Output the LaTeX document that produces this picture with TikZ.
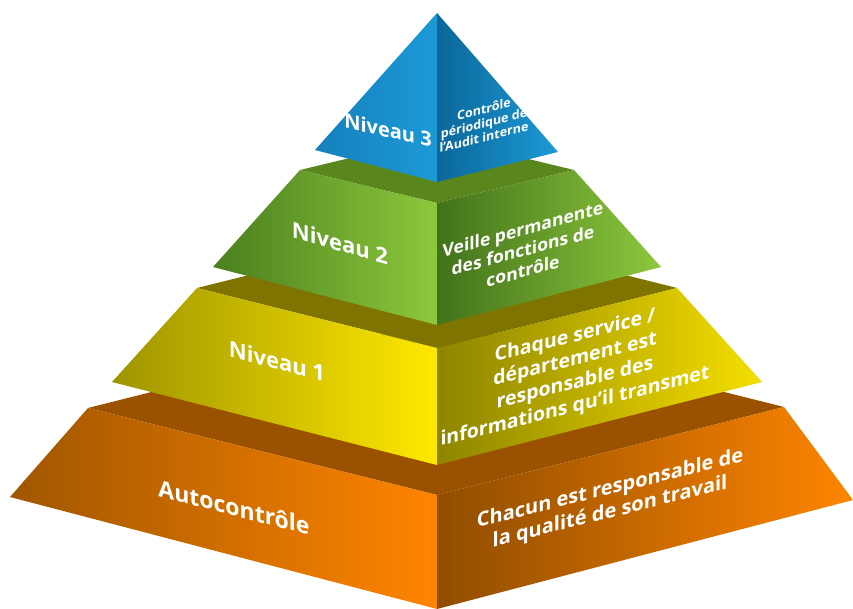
\documentclass[tikz,border=0pt]{standalone}
\usepackage{fontspec}
\setmainfont{Open Sans}
\usepackage{xcolor}
\usetikzlibrary{positioning}

\definecolor{autotop}{HTML}{9B5200}
\definecolor{autodark}{HTML}{A05600}
\definecolor{autolight}{HTML}{FF8500}
\definecolor{nivonetop}{HTML}{807400}
\definecolor{nivonedark}{HTML}{9E9400}
\definecolor{nivonelight}{HTML}{FFE800}
\definecolor{nivtwotop}{HTML}{5A861E}
\definecolor{nivtwodark}{HTML}{4A7F1E}
\definecolor{nivtwolight}{HTML}{8DC83C}
\definecolor{nivthreedark}{HTML}{0B679A}
\definecolor{nivthreeleft}{HTML}{1580BC}
\definecolor{nivthreelight}{HTML}{1C9AD6}

\tikzset{
  levelname/.style={text=white, font=\bfseries\fontsize{22}{22}\selectfont, yslant=-0.26, inner sep=0pt},
  levelnote/.style={text=white, font=\bfseries\fontsize{20}{23.5}\selectfont, yslant=0.25, align=center, inner sep=0pt},
}

\begin{document}
\begin{tikzpicture}[x=1pt,y=-1pt]
    \useasboundingbox (0,0) rectangle (853,609);

    % Autocontrole (bottom tier)
    \fill[autotop] (88,408) -- (437,320) -- (784,407) -- (437,495) -- cycle;
    \shade[left color=autodark, right color=autolight] (88,408) -- (437,495) -- (437,609) -- (10,497) -- cycle;
    \shade[left color=autodark!90!black, right color=autolight] (437,495) -- (784,407) -- (853,500) -- (437,609) -- cycle;

    % Niveau 1
    \fill[nivonetop] (197,288) -- (437,228) -- (677,288) -- (437,348) -- cycle;
    \shade[left color=nivonedark, right color=nivonelight] (197,288) -- (437,348) -- (437,465) -- (112,382) -- cycle;
    \shade[left color=nivonedark!90!black, right color=nivonelight!96!black] (437,348) -- (677,288) -- (762,382) -- (437,465) -- cycle;

    % Niveau 2
    \fill[nivtwotop] (300,170) -- (437,137) -- (574,170) -- (437,203) -- cycle;
    \shade[left color=nivtwodark, right color=nivtwolight] (300,170) -- (437,203) -- (437,325) -- (213,267) -- cycle;
    \shade[left color=nivtwodark!90!black, right color=nivtwolight] (437,203) -- (574,170) -- (661,267) -- (437,325) -- cycle;

    % Niveau 3 (top)
    \shade[left color=nivthreeleft, right color=nivthreelight] (437,13) -- (437,182) -- (315,150) -- cycle;
    \shade[left color=nivthreedark, right color=nivthreelight] (437,13) -- (558,152) -- (437,182) -- cycle;

    % Labels
    \node[levelname, font=\bfseries\fontsize{23}{23}\selectfont] (autoname) at (234,507) {Autocontrôle};
    \node[levelname] (nivonename) at (277,361) {Niveau 1};
    \node[levelname, yslant=-0.02] (nivtwoname) at (340,243) {Niveau 2};
    \node[levelname, yslant=0.03, font=\bfseries\fontsize{20}{20}\selectfont] (nivthreename) at (388,130) {Niveau 3};

    % Descriptions
    \node[levelnote] (autonote) at (610,501) {Chacun est responsable de\\la qualité de son travail};
    \node[levelnote, font=\bfseries\fontsize{19.5}{23.5}\selectfont] (nivonenote) at (575,372) {Chaque service /\\département est\\responsable des\\informations qu’il transmet};
    \node[levelnote, yslant=0.02, font=\bfseries\fontsize{17.5}{21}\selectfont] (nivtwonote) at (523,250) {Veille permanente\\des fonctions de\\contrôle};
    \node[levelnote, font=\bfseries\fontsize{12.5}{14}\selectfont] (nivthreenote) at (484,123) {Contrôle\\périodique de\\l’Audit interne};
\end{tikzpicture}
\end{document}
